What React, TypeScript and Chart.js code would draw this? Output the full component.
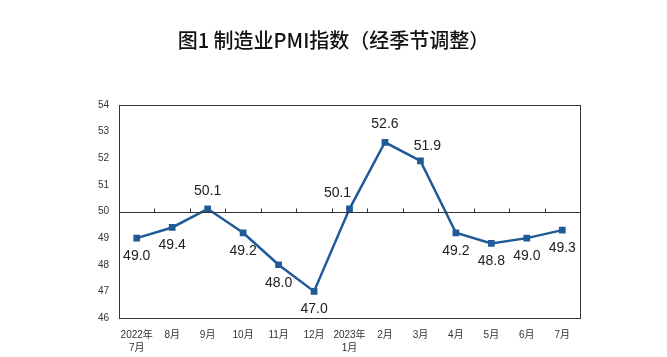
import React, { useEffect, useRef } from "react";
import { Chart, registerables } from "chart.js";

Chart.register(...registerables);

const categories: string[][] = [
  ["2022年", "7月"], ["8月"], ["9月"], ["10月"], ["11月"], ["12月"],
  ["2023年", "1月"], ["2月"], ["3月"], ["4月"], ["5月"], ["6月"], ["7月"],
];
const pmiValues: number[] = [49.0, 49.4, 50.1, 49.2, 48.0, 47.0, 50.1, 52.6, 51.9, 49.2, 48.8, 49.0, 49.3];
const labelPlacement: string[] = ["below", "below", "above", "below", "below", "below", "aboveLeft", "above", "aboveRight", "below", "below", "below", "below"];
const yMin = 46;
const yMax = 54;
const referenceLine = 50;
const titleText = "图1 制造业PMI指数（经季节调整）";

const LINE_COLOR = "#1f5b98";
const FONT = "'Liberation Sans', 'Noto Sans CJK SC', sans-serif";

const framePlugin = {
  id: "frameAndLabels",
  afterDatasetsDraw(chart: any) {
    const { ctx, chartArea } = chart;
    const y = chart.scales.y;
    ctx.save();
    ctx.strokeStyle = "#333333";
    ctx.lineWidth = 1;
    ctx.strokeRect(Math.round(chartArea.left) + 0.5, Math.round(chartArea.top) + 0.5,
      Math.round(chartArea.right - chartArea.left), Math.round(chartArea.bottom - chartArea.top));
    const ry = Math.round(y.getPixelForValue(referenceLine)) + 0.5;
    ctx.beginPath();
    ctx.moveTo(chartArea.left, ry);
    ctx.lineTo(chartArea.right, ry);
    const n = categories.length;
    const step = (chartArea.right - chartArea.left) / n;
    for (let i = 1; i < n; i++) {
      const tx = Math.round(chartArea.left + step * i) + 0.5;
      ctx.moveTo(tx, ry);
      ctx.lineTo(tx, ry - 4);
    }
    ctx.stroke();
    ctx.restore();
  },
  afterDraw(chart: any) {
    const { ctx } = chart;
    const meta = chart.getDatasetMeta(0);
    ctx.save();
    ctx.font = `500 20px 'Noto Sans CJK SC', sans-serif`;
    ctx.fillStyle = "#111111";
    ctx.textAlign = "center";
    ctx.textBaseline = "middle";
    ctx.fillText(titleText, chart.width / 2, 40);
    ctx.font = `14px ${FONT}`;
    ctx.fillStyle = "#222222";
    meta.data.forEach((pt: any, i: number) => {
      const v = pmiValues[i];
      let dx = 0;
      let dy = 18;
      const p = labelPlacement[i];
      if (p === "above") dy = -18;
      if (p === "aboveLeft") { dx = -12; dy = -16; }
      if (p === "aboveRight") { dx = 7; dy = -15; }
      ctx.fillText(v.toFixed(1), pt.x + dx, pt.y + dy);
    });
    ctx.restore();
  },
};

export default function App() {
  const ref = useRef<HTMLCanvasElement | null>(null);
  useEffect(() => {
    document.body.style.margin = "0";
    const canvas = ref.current;
    if (!canvas) return;
    const chart = new Chart(canvas, {
      type: "line",
      data: {
        labels: categories,
        datasets: [
          {
            data: pmiValues,
            borderColor: LINE_COLOR,
            backgroundColor: LINE_COLOR,
            borderWidth: 2.5,
            pointStyle: "rect",
            pointRadius: 3,
            pointBackgroundColor: LINE_COLOR,
            pointBorderColor: LINE_COLOR,
            tension: 0,
          },
        ],
      },
      options: {
        animation: false,
        responsive: false,
        layout: { padding: { left: 0, right: 87, top: 105, bottom: 0 } },
        plugins: {
          legend: { display: false },
          tooltip: { enabled: false },
          title: { display: false },
        },
        scales: {
          x: {
            offset: true,
            grid: { display: false, drawTicks: false },
            border: { display: false },
            ticks: {
              color: "#333333",
              font: { family: FONT, size: 10, lineHeight: 1.35 },
              padding: 10,
              maxRotation: 0,
              autoSkip: false,
            },
            afterFit(scale: any) { scale.height = 39; },
          },
          y: {
            min: yMin,
            max: yMax,
            grid: { display: false, drawTicks: false },
            border: { display: false },
            ticks: {
              stepSize: 1,
              color: "#333333",
              font: { family: FONT, size: 10 },
              padding: 10,
            },
            afterFit(scale: any) { scale.width = 119; },
          },
        },
      },
      plugins: [framePlugin],
    });
    return () => chart.destroy();
  }, []);
  return <canvas ref={ref} width={667} height={357} style={{ display: "block" }} />;
}
